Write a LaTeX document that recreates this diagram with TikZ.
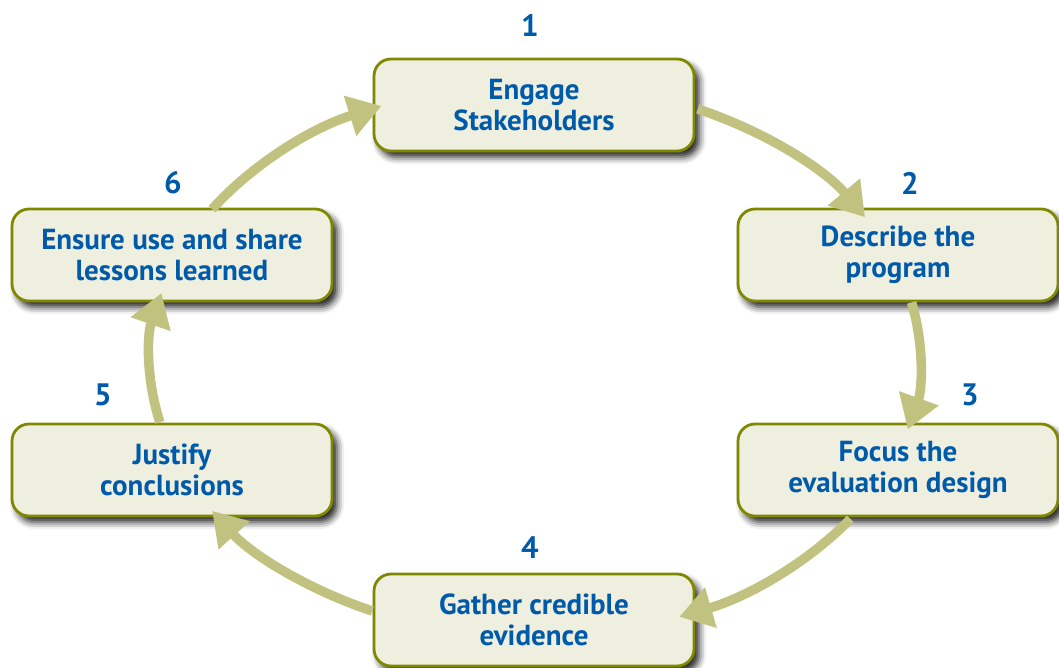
\documentclass[tikz,border=0pt]{standalone}
\usepackage{fontspec}
\setmainfont{PT Sans}
\usetikzlibrary{arrows.meta,shadows.blur,calc}
\definecolor{boxfill}{RGB}{239,239,223}
\definecolor{boxline}{RGB}{128,136,0}
\definecolor{flowcol}{RGB}{194,194,128}
\definecolor{txtblue}{RGB}{0,90,170}
\tikzset{
  stepbox/.style={rectangle, rounded corners=17pt, draw=boxline, line width=2.8pt,
    fill=boxfill, minimum width=320pt, minimum height=92pt, align=center,
    text=txtblue, font=\fontsize{29}{31}\selectfont\bfseries,
    blur shadow={shadow xshift=5pt, shadow yshift=-6pt, shadow blur radius=7pt, shadow opacity=90}},
  numlabel/.style={text=txtblue, font=\fontsize{31}{34}\selectfont\bfseries},
  flow/.style={draw=flowcol, line width=9.5pt, -{Triangle[length=33pt,width=40pt]}}
}
\begin{document}
\begin{tikzpicture}[x=1pt,y=1pt]
\useasboundingbox (0,0) rectangle (1059,-668);
\node[stepbox] (b1) at (534,-105) {Engage\\Stakeholders};
\node[stepbox] (b2) at (898,-255) {Describe the\\program};
\node[stepbox] (b3) at (898,-470) {Focus the\\evaluation design};
\node[stepbox] (b4) at (534,-620) {Gather credible\\evidence};
\node[stepbox] (b5) at (172,-470) {Justify\\conclusions};
\node[stepbox] (b6) at (172,-255) {Ensure use and share\\lessons learned};
\node[numlabel] (n1) at (530,-25) {1};
\node[numlabel] (n2) at (910,-183) {2};
\node[numlabel] (n3) at (970,-395) {3};
\node[numlabel] (n4) at (530,-548) {4};
\node[numlabel] (n5) at (103,-395) {5};
\node[numlabel] (n6) at (173,-183) {6};
\coordinate (E) at (535,-360);
\coordinate (s1) at ($(E)+(65:385 and 277)$);
\coordinate (s2) at ($(E)+(12:385 and 277)$);
\coordinate (s3) at ($(E)+(-35:385 and 277)$);
\coordinate (s4) at ($(E)+(245:385 and 277)$);
\coordinate (s5) at ($(E)+(193:385 and 277)$);
\coordinate (s6) at ($(E)+(147:385 and 277)$);
\draw[flow] (s6) arc[start angle=147, end angle=113.5, x radius=385, y radius=277];
\draw[flow] (s1) arc[start angle=65, end angle=31, x radius=385, y radius=277];
\draw[flow] (s2) arc[start angle=12, end angle=-14.5, x radius=385, y radius=277];
\draw[flow] (s3) arc[start angle=-35, end angle=-68, x radius=385, y radius=277];
\draw[flow] (s4) arc[start angle=245, end angle=213, x radius=385, y radius=277];
\draw[flow] (s5) arc[start angle=193, end angle=166, x radius=385, y radius=277];
\end{tikzpicture}
\end{document}
